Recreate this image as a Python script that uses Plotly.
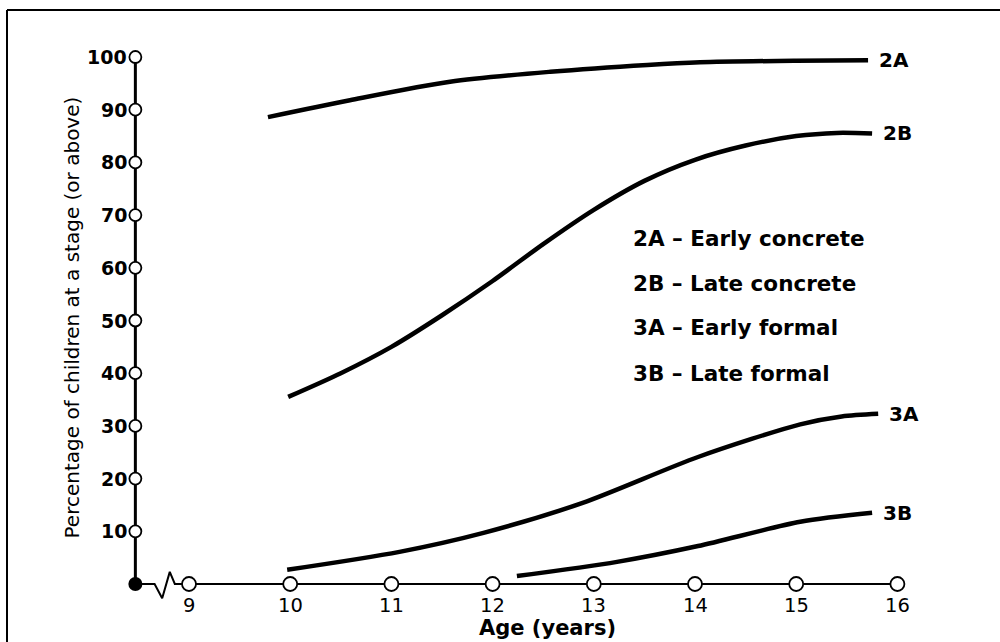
import plotly.graph_objects as go

# ---- data ----
age_ticks = [9, 10, 11, 12, 13, 14, 15, 16]
pct_ticks = [10, 20, 30, 40, 50, 60, 70, 80, 90, 100]

x_2a = [9.78, 10.59, 11.58, 12.57, 13.53, 14.05, 15.0, 15.71]
y_2a = [88.6, 91.8, 95.3, 97.2, 98.5, 99.0, 99.3, 99.4]

x_2b = [9.98, 10.5, 11.0, 11.5, 12.0, 12.5, 13.0, 13.5, 14.0, 14.5, 15.0, 15.4, 15.75]
y_2b = [35.5, 40.0, 45.0, 51.0, 57.5, 64.5, 71.0, 76.5, 80.5, 83.2, 85.0, 85.6, 85.5]

x_3a = [9.97, 11.08, 11.91, 12.89, 14.03, 15.04, 15.45, 15.81]
y_3a = [2.7, 6.1, 9.7, 15.4, 24.1, 30.3, 31.8, 32.3]

x_3b = [12.24, 13.23, 14.03, 15.04, 15.75]
y_3b = [1.5, 4.2, 7.2, 11.8, 13.5]

curve_names = ["2A", "2B", "3A", "3B"]
legend_lines = ["2A \u2013 Early concrete", "2B \u2013 Late concrete",
                "3A \u2013 Early formal", "3B \u2013 Late formal"]

origin_x = 8.47
# axis break (zigzag) between origin and age 9
brk_x = [origin_x, 8.66, 8.735, 8.81, 8.86, 9]
brk_y = [0, 0, -2.7, 2.3, 0, 0]

FONT = "DejaVu Sans, Arial, sans-serif"

fig = go.Figure()

# axes lines
fig.add_trace(go.Scatter(x=[origin_x, origin_x], y=[0, 100], mode="lines",
                         line=dict(color="black", width=3), hoverinfo="skip"))
fig.add_trace(go.Scatter(x=brk_x, y=brk_y, mode="lines",
                         line=dict(color="black", width=2), hoverinfo="skip"))
fig.add_trace(go.Scatter(x=[9, 16], y=[0, 0], mode="lines",
                         line=dict(color="black", width=2), hoverinfo="skip"))

# curves
for xs, ys in [(x_2a, y_2a), (x_2b, y_2b), (x_3a, y_3a), (x_3b, y_3b)]:
    fig.add_trace(go.Scatter(x=xs, y=ys, mode="lines",
                             line=dict(color="black", width=4.5, shape="spline", smoothing=0.8),
                             hoverinfo="skip"))

# tick circles
fig.add_trace(go.Scatter(x=[origin_x] * len(pct_ticks), y=pct_ticks, mode="markers",
                         marker=dict(symbol="circle", size=12, color="white",
                                     line=dict(color="black", width=1.8)), hoverinfo="skip"))
fig.add_trace(go.Scatter(x=age_ticks, y=[0] * len(age_ticks), mode="markers",
                         marker=dict(symbol="circle", size=14, color="white",
                                     line=dict(color="black", width=1.8)), hoverinfo="skip"))
fig.add_trace(go.Scatter(x=[origin_x], y=[0], mode="markers",
                         marker=dict(symbol="circle", size=14, color="black"), hoverinfo="skip"))

ann = []
for v in pct_ticks:
    ann.append(dict(x=origin_x, y=v, xref="x", yref="y", text="<b>%d</b>" % v,
                    showarrow=False, xanchor="right", yanchor="middle", xshift=-6,
                    font=dict(family=FONT, size=19, color="black")))
for v in age_ticks:
    ann.append(dict(x=v, y=0, xref="x", yref="y", text="%d" % v,
                    showarrow=False, xanchor="center", yanchor="middle", yshift=-21,
                    font=dict(family=FONT, size=19.5, color="black")))
ann.append(dict(x=12.54, y=-8.4, xref="x", yref="y", text="<b>Age (years)</b>", showarrow=False,
                xanchor="center", yanchor="middle",
                font=dict(family=FONT, size=21, color="black")))
ann.append(dict(x=7.84, y=50.5, xref="x", yref="y", text="Percentage of children at a stage (or above)",
                showarrow=False, textangle=-90, xanchor="center", yanchor="middle",
                font=dict(family=FONT, size=20, color="black")))

end_pts = [(x_2a[-1], y_2a[-1]), (x_2b[-1], y_2b[-1]), (x_3a[-1], y_3a[-1]), (x_3b[-1], y_3b[-1])]
for name, (ex, ey) in zip(curve_names, end_pts):
    ann.append(dict(x=ex, y=ey, xref="x", yref="y", text="<b>%s</b>" % name, showarrow=False,
                    xanchor="left", yanchor="middle", xshift=9,
                    font=dict(family=FONT, size=20, color="black")))

legend_y = [65.6, 57.1, 48.6, 40.0]
for txt, ly in zip(legend_lines, legend_y):
    ann.append(dict(x=13.37, y=ly, xref="x", yref="y", text="<b>%s</b>" % txt, showarrow=False,
                    xanchor="left", yanchor="middle",
                    font=dict(family=FONT, size=21.5, color="black")))

fig.update_layout(
    width=1000, height=642,
    margin=dict(l=0, r=0, t=0, b=0),
    paper_bgcolor="white", plot_bgcolor="white",
    showlegend=False,
    xaxis=dict(range=[7.1324, 17.0138], visible=False, fixedrange=True),
    yaxis=dict(range=[-11.006, 110.82], visible=False, fixedrange=True),
    annotations=ann,
    shapes=[
        dict(type="line", xref="paper", yref="paper", x0=7 / 1000, x1=1, y0=1 - 10 / 642, y1=1 - 10 / 642,
             line=dict(color="black", width=2)),
        dict(type="line", xref="paper", yref="paper", x0=7 / 1000, x1=7 / 1000, y0=0, y1=1 - 10 / 642,
             line=dict(color="black", width=2)),
    ],
)

fig.write_html("out.html", config={"displayModeBar": False},
               post_script="document.body.style.margin='0px';document.body.style.overflow='hidden';")
